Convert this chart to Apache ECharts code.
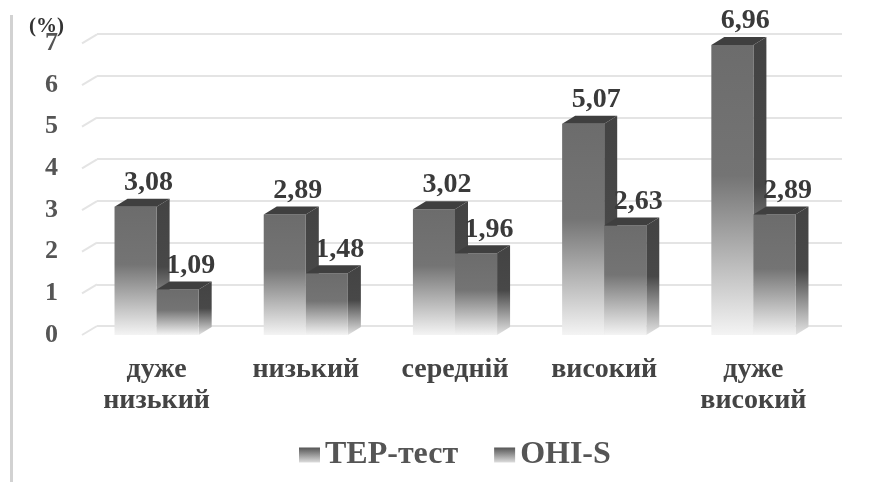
<!DOCTYPE html>
<html><head><meta charset="utf-8">
<script src="https://cdn.jsdelivr.net/npm/echarts@6/dist/echarts.min.js"></script>
<style>html,body{margin:0;padding:0;background:#fff}#c{width:872px;height:482px}</style>
</head><body><div id="c"></div>
<script>
var categories = ['дуже\nнизький', 'низький', 'середній', 'високий', 'дуже\nвисокий'];
var seriesNames = ['ТЕР-тест', 'OHI-S'];
var tepValues = [3.08, 2.89, 3.02, 5.07, 6.96];
var ohiValues = [1.09, 1.48, 1.96, 2.63, 2.89];
var yTicks = [0, 1, 2, 3, 4, 5, 6, 7];

var FONT = 'Liberation Serif';
var DX = 13, DY = 8;

function grad(stops) {
  return new echarts.graphic.LinearGradient(0, 0, 0, 1, stops.map(function (s) { return { offset: s[0], color: s[1] }; }));
}
function fmt(v) { return v.toFixed(2).replace('.', ','); }

function makeRender(idx) {
  return function (params, api) {
    var cat = api.value(0), val = api.value(1);
    var top = api.coord([cat, val]);
    var base = api.coord([cat, 0]);
    var band = api.size([1, 0])[0];
    var w = band * 0.282;
    var x0 = idx === 0 ? top[0] - w : top[0];
    var x1 = x0 + w;
    var yT = top[1], yB = base[1];
    return {
      type: 'group',
      children: [
        { type: 'polygon', shape: { points: [[x1, yT], [x1 + DX, yT - DY], [x1 + DX, yB - DY], [x1, yB]] },
          style: { fill: grad([[0, '#434343'], [0.5, '#484848'], [1, '#e4e4e4']]) } },
        { type: 'rect', shape: { x: x0, y: yT, width: w, height: yB - yT },
          style: { fill: grad([[0, '#6c6c6c'], [0.45, '#747474'], [1, '#f4f4f4']]) } },
        { type: 'polygon', shape: { points: [[x0, yT], [x0 + DX, yT - DY], [x1 + DX, yT - DY], [x1, yT]] },
          style: { fill: '#3f3f3f' } },
        { type: 'text', x: (x0 + x1) / 2 + 13, y: yT - DY - 2,
          style: { text: fmt(val), fontFamily: FONT, fontWeight: 'bold', fontSize: 28, fill: '#3a3a3a',
                   align: 'center', verticalAlign: 'bottom' } }
      ]
    };
  };
}

function slantRender(params, api) {
  var v = api.value(0);
  var y = api.coord([0, v])[1];
  var x = params.coordSys.x;
  return { type: 'line', shape: { x1: x, y1: y, x2: x + 15, y2: y - 9 },
           style: { stroke: '#e4e4e4', lineWidth: 2 } };
}

var chart = echarts.init(document.getElementById('c'));
chart.setOption({
  animation: false,
  backgroundColor: '#fff',
  grid: [
    { left: 82, right: 44, top: 43.4, bottom: 147 },
    { left: 97, right: 30, top: 34, bottom: 156 }
  ],
  xAxis: [
    { type: 'category', gridIndex: 0, data: categories,
      axisLine: { show: false }, axisTick: { show: false },
      axisLabel: { fontFamily: FONT, fontWeight: 'bold', fontSize: 28, color: '#444', lineHeight: 31, margin: 19, interval: 0 } },
    { type: 'category', gridIndex: 1, data: categories, show: false }
  ],
  yAxis: [
    { type: 'value', gridIndex: 0, min: 0, max: 7, interval: 1,
      axisLine: { show: false }, axisTick: { show: false }, splitLine: { show: false },
      axisLabel: { fontFamily: FONT, fontWeight: 'bold', fontSize: 26, color: '#555', margin: 24 } },
    { type: 'value', gridIndex: 1, min: 0, max: 7, interval: 1,
      axisLine: { show: false }, axisTick: { show: false }, axisLabel: { show: false },
      splitLine: { lineStyle: { color: '#e4e4e4', width: 2 } } }
  ],
  legend: {
    left: 294, top: 434, itemWidth: 21, itemHeight: 15, itemGap: 36, icon: 'rect',
    data: seriesNames,
    textStyle: { fontFamily: FONT, fontWeight: 'bold', fontSize: 32, color: '#555' }
  },
  graphic: [
    { type: 'line', shape: { x1: 11.5, y1: 15, x2: 11.5, y2: 482 }, style: { stroke: '#d2d2d2', lineWidth: 3 } },
    { type: 'text', left: 29, top: 16, style: { text: '(%)', fontFamily: FONT, fontWeight: 'bold', fontSize: 21, fill: '#333' } }
  ],
  series: [
    { type: 'custom', name: 'slants', xAxisIndex: 0, yAxisIndex: 0, renderItem: slantRender,
      data: yTicks.map(function (t) { return [t]; }), encode: { y: 0 }, z: 1, silent: true },
    { type: 'custom', name: seriesNames[0], xAxisIndex: 0, yAxisIndex: 0, renderItem: makeRender(0),
      itemStyle: { color: grad([[0, '#555'], [1, '#ddd']]) },
      data: tepValues.map(function (v, i) { return [i, v]; }), encode: { x: 0, y: 1 }, z: 3 },
    { type: 'custom', name: seriesNames[1], xAxisIndex: 0, yAxisIndex: 0, renderItem: makeRender(1),
      itemStyle: { color: grad([[0, '#555'], [1, '#ddd']]) },
      data: ohiValues.map(function (v, i) { return [i, v]; }), encode: { x: 0, y: 1 }, z: 4 }
  ]
});
</script>
</body></html>
